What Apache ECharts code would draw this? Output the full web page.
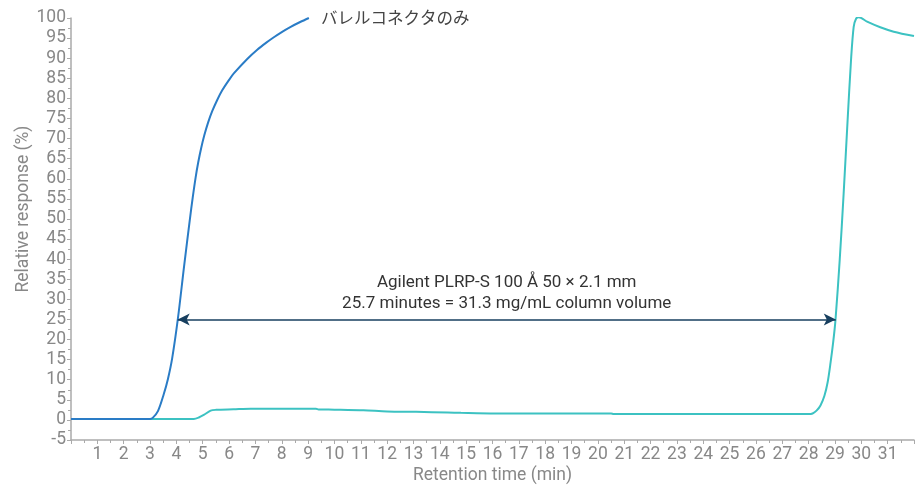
<!DOCTYPE html>
<html>
<head>
<meta charset="utf-8">
<style>
body { margin: 0; background: #fff; }
#chart { width: 922px; height: 486px; }
</style>
<script src="https://cdn.jsdelivr.net/npm/echarts@6/dist/echarts.min.js"></script>
</head>
<body>
<div id="chart"></div>
<script>
// barrel connector only (blue)
const barrelTime  = [0, 3.0, 3.1, 3.3, 3.52, 3.68, 3.84, 4.06, 4.29, 4.51, 4.62, 4.73, 4.83, 4.94, 5.06, 5.2, 5.36, 5.55, 5.74, 6.0, 6.18, 6.69, 7.07, 7.4, 7.7, 8.0, 8.34, 8.7, 9.03];
const barrelValue = [0.25, 0.25, 0.5, 2.2, 6.4, 10.2, 15.3, 25.3, 38.1, 49.8, 55.3, 60.3, 64.1, 67.6, 70.8, 73.9, 76.8, 79.6, 82.0, 84.6, 86.2, 89.8, 92.1, 93.8, 95.2, 96.5, 97.8, 99.0, 100];

// PLRP-S column (teal)
const columnTime  = [0, 4.66, 4.85, 5.04, 5.3, 5.5, 6.17, 6.82, 9.3, 9.4, 10, 11.1, 12, 13.1, 14.3, 14.8, 16.1, 20.5, 20.6, 28.0, 28.15, 28.3, 28.45, 28.6, 28.72, 28.83, 28.93, 29.02, 29.18, 29.33, 29.48, 29.61, 29.71, 29.8, 29.9, 30.22, 30.72, 31.23, 32.0];
const columnValue = [0.25, 0.25, 0.6, 1.24, 2.3, 2.5, 2.65, 2.8, 2.8, 2.6, 2.55, 2.4, 2.1, 2.0, 1.85, 1.75, 1.6, 1.6, 1.45, 1.45, 1.6, 2.3, 3.6, 6.0, 9.3, 14.1, 19.2, 24.9, 39.8, 56.4, 74.6, 89.6, 97.8, 99.8, 100.2, 99.1, 97.7, 96.6, 95.5];

// breakthrough arrow: [start, end] retention time and level
const arrowTime = [4.05, 29.03];
const arrowLevel = 25;

const barrelLabel = 'バレルコネクタのみ';
const arrowText = 'Agilent PLRP-S 100 Å 50 × 2.1 mm\n25.7 minutes = 31.3 mg/mL column volume';

const pairs = (xs, ys) => xs.map((x, i) => [x, ys[i]]);

const gray = '#888';
const chart = echarts.init(document.getElementById('chart'), null, { renderer: 'canvas' });
chart.setOption({
  animation: false,
  textStyle: { fontFamily: 'Roboto' },
  grid: { left: 71, right: 8, top: 18, bottom: 46, containLabel: false, outerBoundsMode: 'none' },
  xAxis: {
    type: 'value', min: 0, max: 32, interval: 1,
    name: 'Retention time (min)', nameLocation: 'middle', nameGap: 27, nameMoveOverlap: false,
    nameTextStyle: { color: gray, fontSize: 17.5 },
    axisLine: { onZero: false, lineStyle: { color: '#aaa', width: 1.5 } },
    axisTick: { show: true, length: 4, lineStyle: { color: '#aaa' } },
    minorTick: { show: true, splitNumber: 2, length: 3, lineStyle: { color: '#aaa' } },
    axisLabel: { color: gray, fontSize: 17.5, margin: 6, showMinLabel: false, showMaxLabel: false },
    splitLine: { show: false }
  },
  yAxis: {
    type: 'value', min: -5, max: 100, interval: 5,
    name: 'Relative response (%)', nameLocation: 'middle', nameGap: 38, nameMoveOverlap: false,
    nameTextStyle: { color: gray, fontSize: 17.5, padding: [0, 0, 0, 40] },
    axisLine: { show: true, lineStyle: { color: '#aaa', width: 1.5 } },
    axisTick: { show: true, length: 4, lineStyle: { color: '#aaa' } },
    minorTick: { show: true, splitNumber: 2, length: 3, lineStyle: { color: '#aaa' } },
    axisLabel: { color: gray, fontSize: 17.5, margin: 5 },
    splitLine: { show: false }
  },
  series: [
    {
      type: 'line', name: 'column',
      data: pairs(columnTime, columnValue),
      showSymbol: false, smooth: 0.3,
      lineStyle: { color: '#3cc2c2', width: 2 },
      markLine: {
        silent: true,
        symbol: ['arrow', 'arrow'], symbolSize: [9, 12],
        lineStyle: { color: '#173f5f', width: 1.5, type: 'solid' },
        label: {
          show: true, position: 'middle', formatter: arrowText,
          color: '#333', fontSize: 17, lineHeight: 21, distance: 5
        },
        data: [[{ coord: [arrowTime[0], arrowLevel] }, { coord: [arrowTime[1], arrowLevel] }]]
      }
    },
    {
      type: 'line', name: 'barrel',
      data: pairs(barrelTime, barrelValue),
      showSymbol: false, smooth: 0.3,
      lineStyle: { color: '#2a7cc6', width: 2 },
      endLabel: {
        show: true, formatter: barrelLabel, distance: 12,
        color: '#444', fontSize: 16.5, fontFamily: 'Noto Sans CJK JP'
      }
    }
  ]
});
</script>
</body>
</html>
